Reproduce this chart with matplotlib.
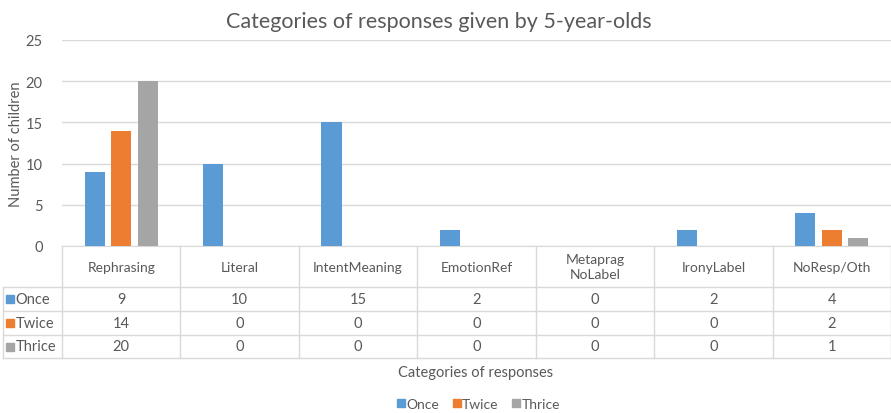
import numpy as np
import matplotlib.pyplot as plt

# data
categories = ['Rephrasing', 'Literal', 'IntentMeaning', 'EmotionRef',
              'Metaprag\nNoLabel', 'IronyLabel', 'NoResp/Oth']
series = ['Once', 'Twice', 'Thrice']
once = [9, 10, 15, 2, 0, 2, 4]
twice = [14, 0, 0, 0, 0, 0, 2]
thrice = [20, 0, 0, 0, 0, 0, 1]
values = [once, twice, thrice]
colors = ['#5B9BD5', '#ED7D31', '#A5A5A5']

plt.rcParams['font.family'] = ['Lato', 'DejaVu Sans']
txt = '#595959'
grid = '#D9D9D9'

W, H = 891, 414
fig = plt.figure(figsize=(W / 100, H / 100), dpi=100)


def px(x0, y0, x1, y1):
    # pixel box (top-left origin) -> figure fraction
    return [x0 / W, 1 - y1 / H, (x1 - x0) / W, (y1 - y0) / H]


ax = fig.add_axes(px(62, 41, 891, 247))
x = np.arange(len(categories))
bw = 0.17
step = 0.224
for i, (name, vals) in enumerate(zip(series, values)):
    ax.bar(x + (i - 1) * step, vals, width=bw, color=colors[i], label=name, zorder=3)

ax.set_xlim(-0.5, len(categories) - 0.5)
ax.set_ylim(0, 25)
ax.set_yticks(np.arange(0, 26, 5))
ax.yaxis.grid(True, color=grid, lw=1)
ax.set_axisbelow(True)
ax.set_xticks([])
for s in ['top', 'right', 'left']:
    ax.spines[s].set_visible(False)
ax.spines['bottom'].set_color(grid)
ax.tick_params(axis='y', length=0, colors=txt, labelsize=10.5, pad=14)
ax.set_ylabel('Number of children', color=txt, fontsize=10.5, labelpad=2)
ax.set_title('Categories of responses given by 5-year-olds', color=txt,
             fontsize=15.5, pad=9, x=0.455)

# data table below the axis
tab = fig.add_axes(px(3, 247, 891, 359))
tab.set_xlim(-0.998, len(categories) - 0.5)
tab.set_ylim(112, 0)
tab.axis('off')
row_edges = [0, 41, 65, 89, 112]
for b in np.arange(-0.5, len(categories), 1.0):
    tab.plot([b, b], [0, 112], color=grid, lw=1, clip_on=False)
tab.plot([-0.998, -0.998], [41, 112], color=grid, lw=1, clip_on=False)
for y in row_edges[1:]:
    tab.plot([-0.998, len(categories) - 0.5], [y, y], color=grid, lw=1, clip_on=False)
for j, c in enumerate(categories):
    tab.text(j, 20.5, c, ha='center', va='center', color=txt, fontsize=10,
             linespacing=1.25)
for i, (name, vals) in enumerate(zip(series, values)):
    yc = (row_edges[i + 1] + row_edges[i + 2]) / 2
    tab.plot(-0.935, yc, marker='s', ms=5.5, color=colors[i], clip_on=False)
    tab.text(-0.89, yc, name, ha='left', va='center', color=txt, fontsize=10.5)
    for j, v in enumerate(vals):
        tab.text(j, yc, str(v), ha='center', va='center', color=txt, fontsize=10.5)

fig.text(476 / W, 1 - 373 / H, 'Categories of responses', ha='center',
         va='center', color=txt, fontsize=10.5)
handles = [plt.Line2D([], [], marker='s', ls='', ms=5.5, color=c) for c in colors]
fig.legend(handles, series, loc='center', bbox_to_anchor=(478 / W, 1 - 405 / H),
           ncol=3, frameon=False, fontsize=10, labelcolor=txt,
           handletextpad=0.05, columnspacing=0.9, handlelength=0.7)

plt.savefig('out.png', dpi=100)
